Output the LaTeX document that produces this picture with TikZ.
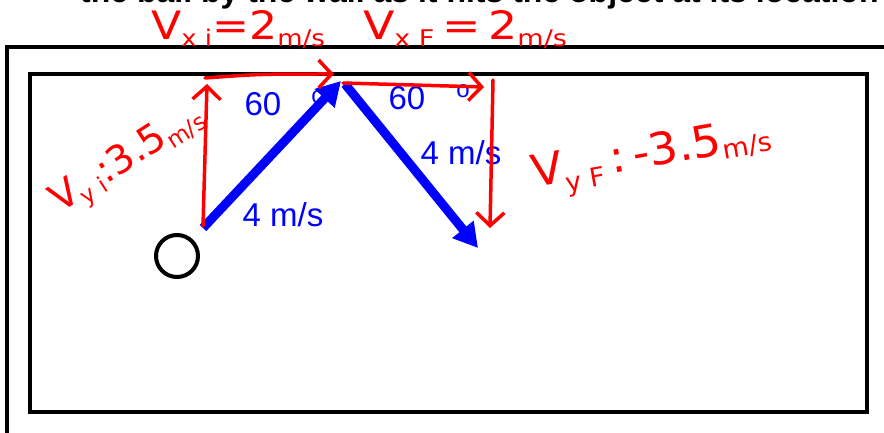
\documentclass[tikz,border=0pt]{standalone}
\usepackage{fontspec}
\setmainfont{Liberation Sans}
\newfontfamily\handfont{DejaVu Sans}
\usetikzlibrary{arrows.meta}
\newcommand{\hbig}{\fontsize{34}{34}\selectfont}
\newcommand{\hsml}{\fontsize{20}{20}\selectfont}
\begin{document}
\begin{tikzpicture}[x=1pt,y=-1pt,
  wall/.style={line width=4.5pt, black},
  bluetxt/.style={text=blue, font=\fontsize{33}{33}\selectfont, inner sep=0pt},
  degtxt/.style={text=blue, font=\fontsize{24}{24}\selectfont, inner sep=0pt},
  vecblue/.style={line width=9pt, blue, -{Triangle[length=24pt,width=26pt]}},
  vecred/.style={line width=3.5pt, red, line cap=round, line join=round, -{Straight Barb[length=13pt,width=28pt,line width=3.5pt]}},
  hw/.style={text=red, font=\handfont, inner sep=0pt}
]
\useasboundingbox (0,0) rectangle (884,433);
\clip (0,0) rectangle (884,433);
\fill[white] (0,0) rectangle (884,433);

% cut-off heading
\node[anchor=base west, font=\bfseries\fontsize{32}{32}\selectfont, inner sep=0pt] (head) at (80,2.5) {the ball by the wall as it hits the object at its location?};

% walls
\draw[line width=4pt] (7,445) -- (7,47) -- (895,47);
\draw[wall] (30,74) rectangle (867,412);

% ball
\node[draw, circle, line width=4pt, minimum size=42pt, inner sep=0pt] (ball) at (177,256) {};

% blue labels
\node[bluetxt] (a60) at (263,104) {60};
\node[degtxt] (a60o) at (318,97) {o};
\node[bluetxt] (b60) at (407,98) {60};
\node[degtxt] (b60o) at (463,91) {o};
\node[bluetxt] (av) at (283,215) {4 m/s};
\node[bluetxt] (bv) at (461,153) {4 m/s};

% blue vectors
\coordinate (p0) at (203,228);
\coordinate (p1) at (341,81);
\coordinate (q0) at (345,84);
\coordinate (q1) at (478,248);
\draw[vecblue] (p0) -- (p1);
\draw[vecblue] (q0) -- (q1);

% red component arrows
\coordinate (r1s) at (203,226);
\coordinate (r1e) at (207,84);
\draw[vecred] (r1s) -- (r1e);
\coordinate (r2s) at (205,78);
\coordinate (r2e) at (334,74);
\draw[vecred] (r2s) .. controls (260,74) .. (r2e);
\coordinate (r3s) at (343,83);
\coordinate (r3e) at (484,87);
\draw[vecred] (r3s) -- (r3e);
\coordinate (r4s) at (493,80);
\coordinate (r4e) at (490,228);
\draw[vecred] (r4s) -- (r4e);

% handwritten labels
\node[hw, anchor=center] (vxi) at (238,30) {\scalebox{1.3}[1.15]{\hbig V\raisebox{-6pt}{\hsml x i}=2\raisebox{-6pt}{\hsml m/s}}};
\node[hw, anchor=center] (vxf) at (465,30) {\scalebox{1.35}[1.15]{\hbig V\raisebox{-6pt}{\hsml x F}\,=\,2\raisebox{-6pt}{\hsml m/s}}};
\node[hw, anchor=center, rotate=33] (vyi) at (128,160) {\scalebox{1.15}[1.15]{\hbig V\raisebox{-6pt}{\hsml y i}:3.5\raisebox{-6pt}{\hsml m/s}}};
\node[hw, anchor=center, rotate=10] (vyf) at (652,158) {\scalebox{1.35}[1.3]{\hbig V\raisebox{-8pt}{\hsml y F}\,:\,-3.5\raisebox{-4pt}{\hsml m/s}}};
\end{tikzpicture}
\end{document}
